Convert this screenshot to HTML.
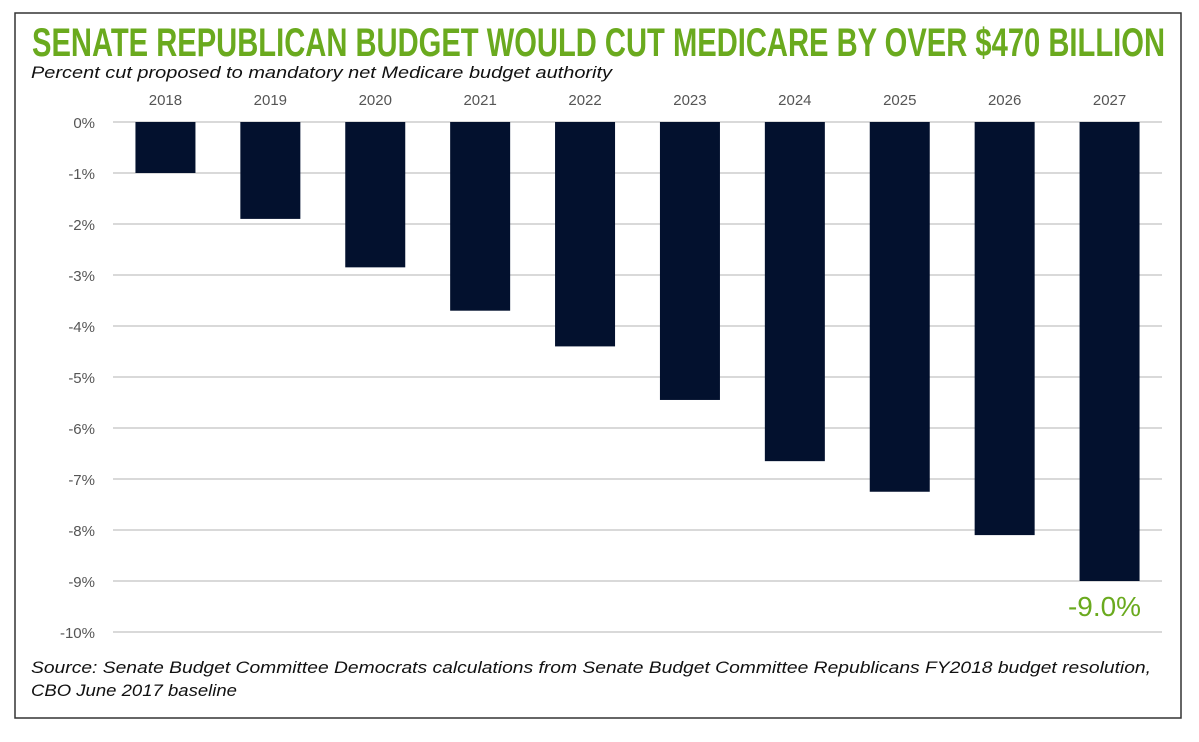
<!DOCTYPE html>
<html><head><meta charset="utf-8"><style>
body{margin:0;background:#fff;}
svg{display:block;font-family:"Liberation Sans",sans-serif;}
</style></head><body>
<svg width="1199" height="742" viewBox="0 0 1199 742">
<rect x="15" y="13" width="1166" height="705" fill="#fff" stroke="#333" stroke-width="1.5"/>
<text x="32" y="56" font-size="40" font-weight="bold" fill="#6aaa1e" textLength="1133" lengthAdjust="spacingAndGlyphs" font-family="Liberation Sans Narrow, Liberation Sans, sans-serif">SENATE REPUBLICAN BUDGET WOULD CUT MEDICARE BY OVER $470 BILLION</text>
<text x="31" y="78" font-size="17" font-style="italic" fill="#111" textLength="581" lengthAdjust="spacingAndGlyphs">Percent cut proposed to mandatory net Medicare budget authority</text>
<g id="grid"></g><g id="bars"></g><g id="labels"></g>
<text x="1068" y="616" font-size="28" fill="#6aaa1e" textLength="73" lengthAdjust="spacingAndGlyphs">-9.0%</text>
<text x="31" y="673" font-size="17" font-style="italic" fill="#111" textLength="1120" lengthAdjust="spacingAndGlyphs">Source: Senate Budget Committee Democrats calculations from Senate Budget Committee Republicans FY2018 budget resolution,</text>
<text x="31" y="696" font-size="17" font-style="italic" fill="#111" textLength="206" lengthAdjust="spacingAndGlyphs">CBO June 2017 baseline</text>
</svg>
<script>
const years=["2018","2019","2020","2021","2022","2023","2024","2025","2026","2027"];
const cuts=[-1.0,-1.9,-2.85,-3.7,-4.4,-5.45,-6.65,-7.25,-8.1,-9.0];
const yTicks=[0,-1,-2,-3,-4,-5,-6,-7,-8,-9,-10];
const NS="http://www.w3.org/2000/svg";
const x0=113,x1=1162,yTop=122,pxPer=51;
const band=(x1-x0)/years.length;
const y=v=>yTop-v*pxPer;
const g=document.getElementById('grid'),b=document.getElementById('bars'),l=document.getElementById('labels');
yTicks.forEach(t=>{
 const ln=document.createElementNS(NS,'line');
 
 
 ln.setAttribute('x1',x0);ln.setAttribute('x2',x1);ln.setAttribute('y1',y(t));ln.setAttribute('y2',y(t));
 ln.setAttribute('stroke','#d9d9d9');ln.setAttribute('stroke-width','2');g.appendChild(ln);
 const tx=document.createElementNS(NS,'text');
 
 
 tx.setAttribute('x',95);tx.setAttribute('y',y(t)+6);tx.setAttribute('text-anchor','end');
 tx.setAttribute('font-size','15');tx.setAttribute('fill','#555');tx.textContent=t+'%';l.appendChild(tx);
});
years.forEach((yr,i)=>{
 const cx=x0+band*(i+0.5);
 const r=document.createElementNS(NS,'rect');
 
 
 r.setAttribute('x',cx-30);r.setAttribute('width',60);r.setAttribute('y',yTop);
 r.setAttribute('height',y(cuts[i])-yTop);r.setAttribute('fill','#03112e');b.appendChild(r);
 const tx=document.createElementNS(NS,'text');
 
 
 tx.setAttribute('x',cx);tx.setAttribute('y',105);tx.setAttribute('text-anchor','middle');
 tx.setAttribute('font-size','15');tx.setAttribute('fill','#555');tx.textContent=yr;l.appendChild(tx);
});
</script>
</body></html>
